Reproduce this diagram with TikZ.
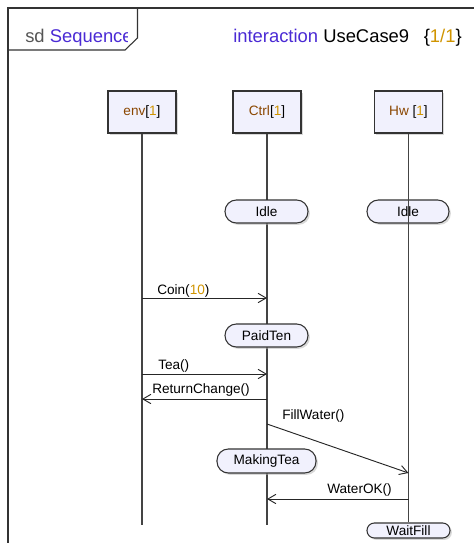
\documentclass[tikz,border=0pt]{standalone}
\usepackage{fontspec}
\setmainfont{Liberation Sans}
\usetikzlibrary{arrows.meta,shadows}
\definecolor{framecol}{HTML}{333333}
\definecolor{lifecol}{HTML}{444444}
\definecolor{boxfill}{HTML}{F1F1FD}
\definecolor{kwblue}{HTML}{4A2AD4}
\definecolor{sdgray}{HTML}{555555}
\definecolor{partbrown}{HTML}{8A4600}
\definecolor{numorange}{HTML}{D09400}
\newcommand{\mult}[1]{[{\color{numorange}#1}]}
\begin{document}
\begin{tikzpicture}[x=0.75pt,y=-0.75pt,
  txt/.style={font=\fontsize{10.2}{12}\selectfont},
  softshadow/.style={drop shadow={shadow xshift=1.4pt, shadow yshift=-1.4pt, fill=black!30}},
  headbox/.style={draw=framecol, fill=boxfill, line width=0.8pt, inner sep=0pt,
    minimum width=51pt, minimum height=31.5pt, txt, softshadow},
  statebox/.style={draw=framecol, fill=boxfill, line width=0.8pt, inner sep=0pt,
    rounded corners=8.5pt, minimum height=17.25pt, txt, softshadow},
  lifeline/.style={draw=lifecol, line width=0.9pt},
  msg/.style={draw=black!85, line width=0.7pt,
    -{Straight Barb[length=6pt,width=7pt,line width=0.7pt]}},
  msglabel/.style={anchor=base west, inner sep=0pt, txt},
]
\useasboundingbox (0,0) rectangle (474,543);

% frame with name tab
\draw[framecol, line width=0.8pt] (475,8) -- (8,8) -- (8,544);
\draw[framecol, line width=0.8pt] (8,50) -- (125,50) -- (137.5,38) -- (137.5,8);
\begin{scope}
  \clip (8,8) rectangle (127,50);
  \node[anchor=base west, inner sep=0pt, font=\fontsize{13.8}{16}\selectfont]
    (sdname) at (25,42) {{\color{sdgray}sd} {\color{kwblue}Sequence}};
\end{scope}
\node[anchor=base west, inner sep=0pt, font=\fontsize{13.8}{16}\selectfont]
  (title) at (233,42) {{\color{kwblue}interaction} UseCase9\hspace{11pt}\{{\color{numorange}1/1}\}};

% lifeline heads
\node[headbox] (env)  at (142,112)   {{\color{partbrown}env}\mult{1}};
\node[headbox] (ctrl) at (267,112)   {{\color{partbrown}Ctrl}\mult{1}};
\node[headbox] (hw)   at (408.5,112) {{\color{partbrown}Hw} \mult{1}};

% lifelines
\coordinate (envend)  at (142,525);
\coordinate (ctrlend) at (267,525);
\draw[lifeline] (env.south)  -- (envend);
\draw[lifeline] (ctrl.south) -- (ctrlend);

% states
\node[statebox, minimum width=62.25pt] (idlectrl)  at (266.5,211.5) {Idle};
\node[statebox, minimum width=61.5pt]  (idlehw)    at (408,211.5)   {Idle};
\node[statebox, minimum width=62.25pt] (paidten)   at (266.5,335.5) {PaidTen};
\node[statebox, minimum width=74.25pt, minimum height=18pt] (makingtea) at (266.5,461) {MakingTea};
\node[statebox, minimum width=62.25pt, minimum height=11.25pt, rounded corners=5.5pt]
  (waitfill) at (408.5,530.5) {WaitFill};
\draw[lifeline] (hw.south) -- (waitfill.north);

% message end points on the lifelines
\coordinate (coinA)   at (env.south  |- 0,298);
\coordinate (coinB)   at (ctrl.south |- 0,298);
\coordinate (teaA)    at (env.south  |- 0,374);
\coordinate (teaB)    at (ctrl.south |- 0,374);
\coordinate (retA)    at (ctrl.south |- 0,399);
\coordinate (retB)    at (env.south  |- 0,399);
\coordinate (fillA)   at (ctrl.south |- 0,424);
\coordinate (fillB)   at (hw.south   |- 0,473);
\coordinate (wokA)    at (hw.south   |- 0,499);
\coordinate (wokB)    at (ctrl.south |- 0,499);

% messages
\draw[msg] (coinA) -- (coinB);
\node[msglabel] (coinlbl) at (157,294) {Coin({\color{numorange}10})};
\draw[msg] (teaA) -- (teaB);
\node[msglabel] (tealbl) at (158,369) {Tea()};
\draw[msg] (retA) -- (retB);
\node[msglabel] (retlbl) at (152,393) {ReturnChange()};
\draw[msg] (fillA) -- (fillB);
\node[msglabel] (filllbl) at (282,419) {FillWater()};
\draw[msg] (wokA) -- (wokB);
\node[msglabel] (woklbl) at (327,493) {WaterOK()};
\end{tikzpicture}
\end{document}
